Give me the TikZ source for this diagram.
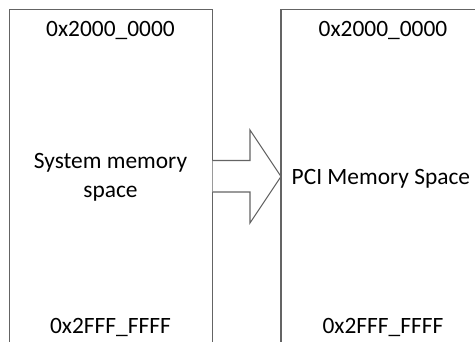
\documentclass[tikz,border=0pt]{standalone}
\usepackage{fontspec}
\setmainfont{Carlito}
\definecolor{linegray}{RGB}{100,100,100}
\begin{document}
\begin{tikzpicture}[x=1pt,y=-1pt,
  outline/.style={draw=linegray,line width=1.4pt},
  lbl/.style={font=\fontsize{23.4}{28}\selectfont,inner sep=0pt,anchor=base}]
\useasboundingbox (0,0) rectangle (475,341);
\clip (0,0) rectangle (475,341);
% left memory region
\draw[outline] (9.5,345) -- (9.5,9.5) -- (212.5,9.5) -- (212.5,345);
% right memory region
\draw[outline] (281,345) -- (281,9.5) -- (490,9.5) -- (490,345);
% block arrow
\draw[outline,line width=1.1pt,fill=white] (212.5,160.5) -- (250,160.5) -- (250,130) -- (281,176.5)
  -- (250,223) -- (250,192) -- (212.5,192);
% labels
\node[lbl] (ltop) at (110.5,36.5) {0x2000\_0000};
\node[lbl] (lbot) at (110.5,333) {0x2FFF\_FFFF};
\node[lbl] (rtop) at (383,36.5) {0x2000\_0000};
\node[lbl] (rbot) at (383,333) {0x2FFF\_FFFF};
\node[lbl] (sys) at (110.5,168.5) {System memory};
\node[lbl] (sys2) at (110.5,197.5) {space};
\node[lbl,anchor=base west] (pci) at (291.5,184) {PCI Memory Space};
\end{tikzpicture}
\end{document}
